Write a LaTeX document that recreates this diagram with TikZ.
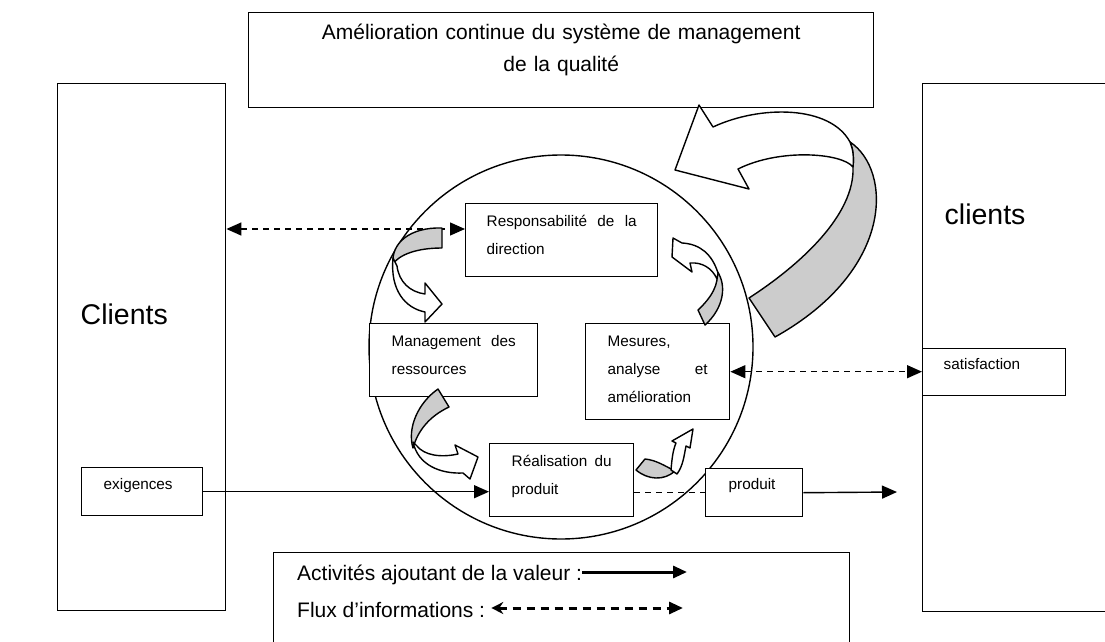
\documentclass[tikz,border=0pt]{standalone}
\usepackage{fontspec}
\setmainfont{Liberation Sans}
\usetikzlibrary{arrows.meta,positioning,calc}
\definecolor{ribbongrey}{RGB}{204,204,204}

\begin{document}
\begin{tikzpicture}[x=1pt,y=-1pt,
	box/.style={draw,fill=white,line width=1.4pt,inner ysep=0pt,anchor=north west,align=left,font=\fontsize{15.3}{28}\selectfont},
	bigtext/.style={font=\fontsize{28.5}{34}\selectfont},
	legtext/.style={anchor=base west,inner sep=0pt,font=\fontsize{21}{25}\selectfont},
	flow/.style={line width=1.4pt,-{Triangle[length=15pt,width=13pt]}},
	info/.style={line width=1.4pt,dash pattern=on 6pt off 5pt,{Triangle[length=15pt,width=13pt]}-{Triangle[length=15pt,width=13pt]}},
	ribbonback/.style={draw,line width=1.4pt,fill=ribbongrey,line join=round},
	ribbonfront/.style={draw,line width=1.4pt,fill=white,line join=round}]
	\useasboundingbox (0,0) rectangle (1105,642);
	\clip (0,0) rectangle (1105,642);
	
	\node[draw,circle,line width=1.4pt,minimum size=384pt,inner sep=0pt] (pdca) at (561,347) {};
	
	% clients on both sides
	\node[box,bigtext,inner xsep=23pt,text width=122pt,text height=241pt,text depth=286pt] (clientsL) at (57,83) {Clients};
	\node[box,bigtext,inner xsep=22pt,text width=156pt,text height=141pt,text depth=387pt] (clientsR) at (922,83) {clients};
	\node[box,inner xsep=22pt,text width=77pt,text height=22pt,text depth=26pt] (exig) at (81,467) {exigences};
	\node[box,inner xsep=21pt,text width=101pt,text height=21pt,text depth=26pt] (satis) at (922,348) {satisfaction};
	
	% top box
	\node[box,align=center,inner xsep=0pt,text width=625pt,text height=27pt,text depth=68pt,font=\fontsize{21}{32}\selectfont] (amelio) at (248,12) {Amélioration continue du système de management\\de la qualité};
	
	% processes
	\node[box,inner xsep=21pt,text width=150pt,text height=23pt,text depth=50pt] (resp) at (465,203) {Responsabilité\hfill de\hfill la\\direction};
	\node[box,inner xsep=22pt,text width=124pt,text height=23pt,text depth=50pt] (mgmt) at (369,323) {Management\hfill des\\ressources};
	\node[box,inner xsep=22pt,text width=100pt,text height=23pt,text depth=73pt] (mes) at (585,323) {Mesures,\\analyse\hfill et\\amélioration};
	\node[box,inner xsep=22pt,text width=100pt,text height=23pt,text depth=50pt] (real) at (489,443) {Réalisation\hfill du\\produit};
	\node[box,inner xsep=23pt,text width=51pt,text height=21pt,text depth=27pt] (prod) at (705,468) {produit};
	
	% connectors
	\coordinate (infotop) at (0,229);
	\coordinate (prodout) at (897,492);
	\draw[info] (clientsL.east |- infotop) -- (resp.west |- infotop);
	\draw[info] (mes.east) -- (satis.west |- mes.east);
	\draw[flow] (exig.east) -- (real.west |- exig.east);
	\draw[line width=1.4pt,dash pattern=on 6pt off 5pt] (real.east |- prod.west) -- (prod.west);
	\draw[flow] (prod.east) -- (prodout);
	
	% legend
	\node[box,minimum width=576pt,minimum height=110pt] (legend) at (273,552) {};
	\node[legtext] (legval) at (297,580) {Activités ajoutant de la valeur :};
	\node[legtext] (leginfo) at (297,617) {Flux d’informations :};
	\coordinate (legvalend) at (687,572);
	\coordinate (leginfoend) at (683,608);
	\draw[line width=3pt,-{Triangle[length=14pt,width=12pt]}] (legval.east |- legvalend) -- (legvalend);
	\draw[line width=3pt,dash pattern=on 8pt off 6pt,{Stealth[length=12pt,width=12pt]}-{Triangle[length=14pt,width=12pt]}] ([xshift=6pt]leginfo.east |- leginfoend) -- (leginfoend);
	
	% big curved arrow
	\filldraw[ribbonback] (850,142) .. controls (892,170) and (895,270) .. (775,337) -- (749,298) .. controls (800,265) and (855,215) .. (853,167) .. controls (854,157) and (853,149) .. (850,142) -- cycle;
	\filldraw[ribbonfront] (850,142) .. controls (830,105) and (760,105) .. (713,127) -- (699,105) -- (675,170) -- (749,189) -- (738,169) .. controls (780,148) and (842,153) .. (853,167) .. controls (854,157) and (853,149) .. (850,142) -- cycle;
	
	% small curved arrows
	\filldraw[ribbonback] (442,228) .. controls (410,227) and (391,243) .. (393,264) .. controls (399,255) and (416,248) .. (442,248) -- cycle;
	\filldraw[ribbonfront] (393,258) .. controls (390,290) and (405,308) .. (425,312) -- (425,322) -- (442,304) -- (425,283) -- (425,294) .. controls (410,292) and (399,282) .. (397,266) -- cycle;
	\filldraw[ribbonback] (438,389) .. controls (418,403) and (407,428) .. (413,448) .. controls (418,430) and (430,416) .. (449,407) -- cycle;
	\filldraw[ribbonfront] (413,442) .. controls (418,465) and (440,474) .. (463,473) -- (470,479) -- (478,457) -- (455,445) -- (458,454) .. controls (440,458) and (424,455) .. (417,446) -- cycle;
	\filldraw[ribbonback] (645,459) .. controls (656,460) and (665,466) .. (675,471) .. controls (664,481) and (648,480) .. (636,470) -- cycle;
	\filldraw[ribbonfront] (671,470) .. controls (672,458) and (673,450) .. (676,443) -- (672,441) -- (693,429) -- (690,448) -- (686,446) .. controls (684,456) and (683,466) .. (677,474) -- cycle;
	\filldraw[ribbonback] (698,310) .. controls (712,297) and (719,284) .. (717,271) .. controls (727,285) and (724,308) .. (705,325) -- cycle;
	\filldraw[ribbonfront] (718,273) .. controls (712,254) and (700,244) .. (682,243) -- (673,238) -- (672,257) -- (692,272) -- (690,263) .. controls (702,262) and (712,268) .. (717,279) -- cycle;
\end{tikzpicture}
\end{document}
